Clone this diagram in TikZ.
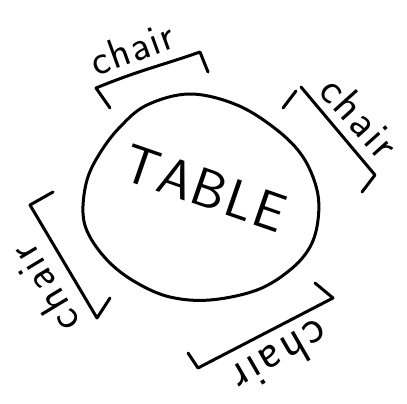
\documentclass[tikz,border=0pt]{standalone}
\usepackage{tikz}
\usetikzlibrary{calc}
% palavra com espaco de letra manuscrita
\newcommand{\cadeira}[1]{c\kern#1 h\kern#1 a\kern#1 i\kern#1 r}
\begin{document}
\begin{tikzpicture}[x=1pt,y=-1pt,
    traco/.style={line width=3pt,line cap=round,line join=round},
    rotulo/.style={font=\sffamily\fontsize{#1}{#1}\selectfont,inner sep=0pt},
    rotulo/.default=40]
  \useasboundingbox (0,0) rectangle (407,404);
  % mesa redonda
  \draw[traco] plot[smooth cycle,tension=0.6] coordinates {(190,94) (237,105) (277,130) (303,157)
    (317,190) (318,220) (310,247) (290,270) (257,290) (210,300) (170,297) (137,283)
    (110,263) (90,237) (83,213) (87,180) (100,153) (120,127) (147,105)};
  \node[rotulo=54,rotate=-19] (mesa) at (205,188)
    {T\kern2pt A\kern2pt B\kern2pt L\kern2pt E};
  % cadeira de cima
  \draw[traco] (110,108) -- (96,88) .. controls (140,70) and (160,66) .. (200,52) -- (208,72);
  \node[rotulo=42,rotate=20] (cadN) at (132,48) {\cadeira{1.5pt}};
  % cadeira da direita
  \draw[traco] (283,108) -- (296,91);
  \draw[traco] (301,87) -- (375,175) -- (362,192);
  \node[rotulo=44,rotate=-48] (cadL) at (360,117) {\cadeira{2.5pt}};
  % cadeira da esquerda
  \draw[traco] (53,192) -- (30,205) -- (97,318) -- (110,298);
  \node[rotulo=44,rotate=121] (cadO) at (44,289) {\cadeira{3pt}};
  % cadeira de baixo
  \draw[traco] (315,283) -- (333,298) -- (198,368) -- (188,353);
  \node[rotulo=48,rotate=210] (cadS) at (281,358) {\cadeira{3pt}};
\end{tikzpicture}
\end{document}
